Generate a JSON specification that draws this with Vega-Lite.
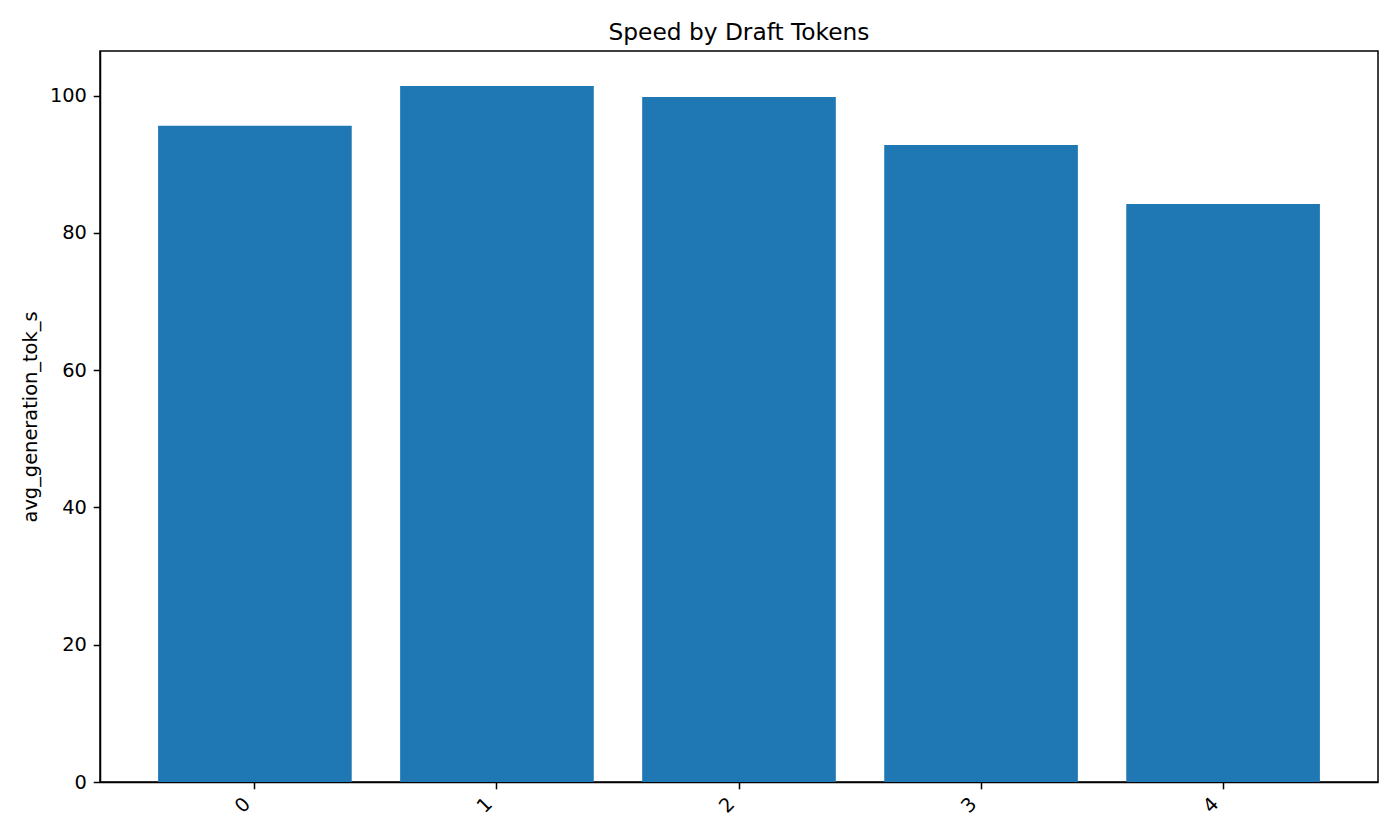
{
  "$schema": "https://vega.github.io/schema/vega-lite/v6.json",
  "autosize": {"type": "none"},
  "padding": {"left": 100, "top": 51, "right": 22, "bottom": 58},
  "width": 1278,
  "height": 731,
  "background": "white",
  "title": {
    "text": "Speed by Draft Tokens",
    "font": "DejaVu Sans",
    "fontSize": 23.3,
    "fontWeight": "normal",
    "color": "black",
    "anchor": "middle",
    "offset": 6
  },
  "config": {
    "view": {"stroke": "black", "strokeWidth": 1.5},
    "axis": {
      "labelFont": "DejaVu Sans",
      "labelFontSize": 19.4,
      "labelColor": "black",
      "titleFont": "DejaVu Sans",
      "titleFontSize": 19.4,
      "titleFontWeight": "normal",
      "titleColor": "black",
      "domainColor": "black",
      "domainWidth": 1.5,
      "tickColor": "black",
      "tickWidth": 1.5,
      "tickSize": 6.8,
      "labelPadding": 6.8,
      "grid": false
    }
  },
  "data": {
    "values": [
      {"draft_tokens": "0", "avg_generation_tok_s": 95.6},
      {"draft_tokens": "1", "avg_generation_tok_s": 101.4},
      {"draft_tokens": "2", "avg_generation_tok_s": 99.8},
      {"draft_tokens": "3", "avg_generation_tok_s": 92.8},
      {"draft_tokens": "4", "avg_generation_tok_s": 84.2}
    ]
  },
  "mark": {"type": "bar", "color": "#1f77b4"},
  "encoding": {
    "x": {
      "field": "draft_tokens",
      "type": "nominal",
      "sort": null,
      "title": null,
      "scale": {"paddingInner": 0.2, "paddingOuter": 0.24},
      "axis": {"labelAngle": -45, "labelAlign": "center", "labelBaseline": "middle", "labelOffset": -12, "labelPadding": 16}
    },
    "y": {
      "field": "avg_generation_tok_s",
      "type": "quantitative",
      "title": "avg_generation_tok_s",
      "scale": {"domain": [0, 106.5], "nice": false},
      "axis": {"values": [0, 20, 40, 60, 80, 100], "titlePadding": 9}
    }
  }
}
